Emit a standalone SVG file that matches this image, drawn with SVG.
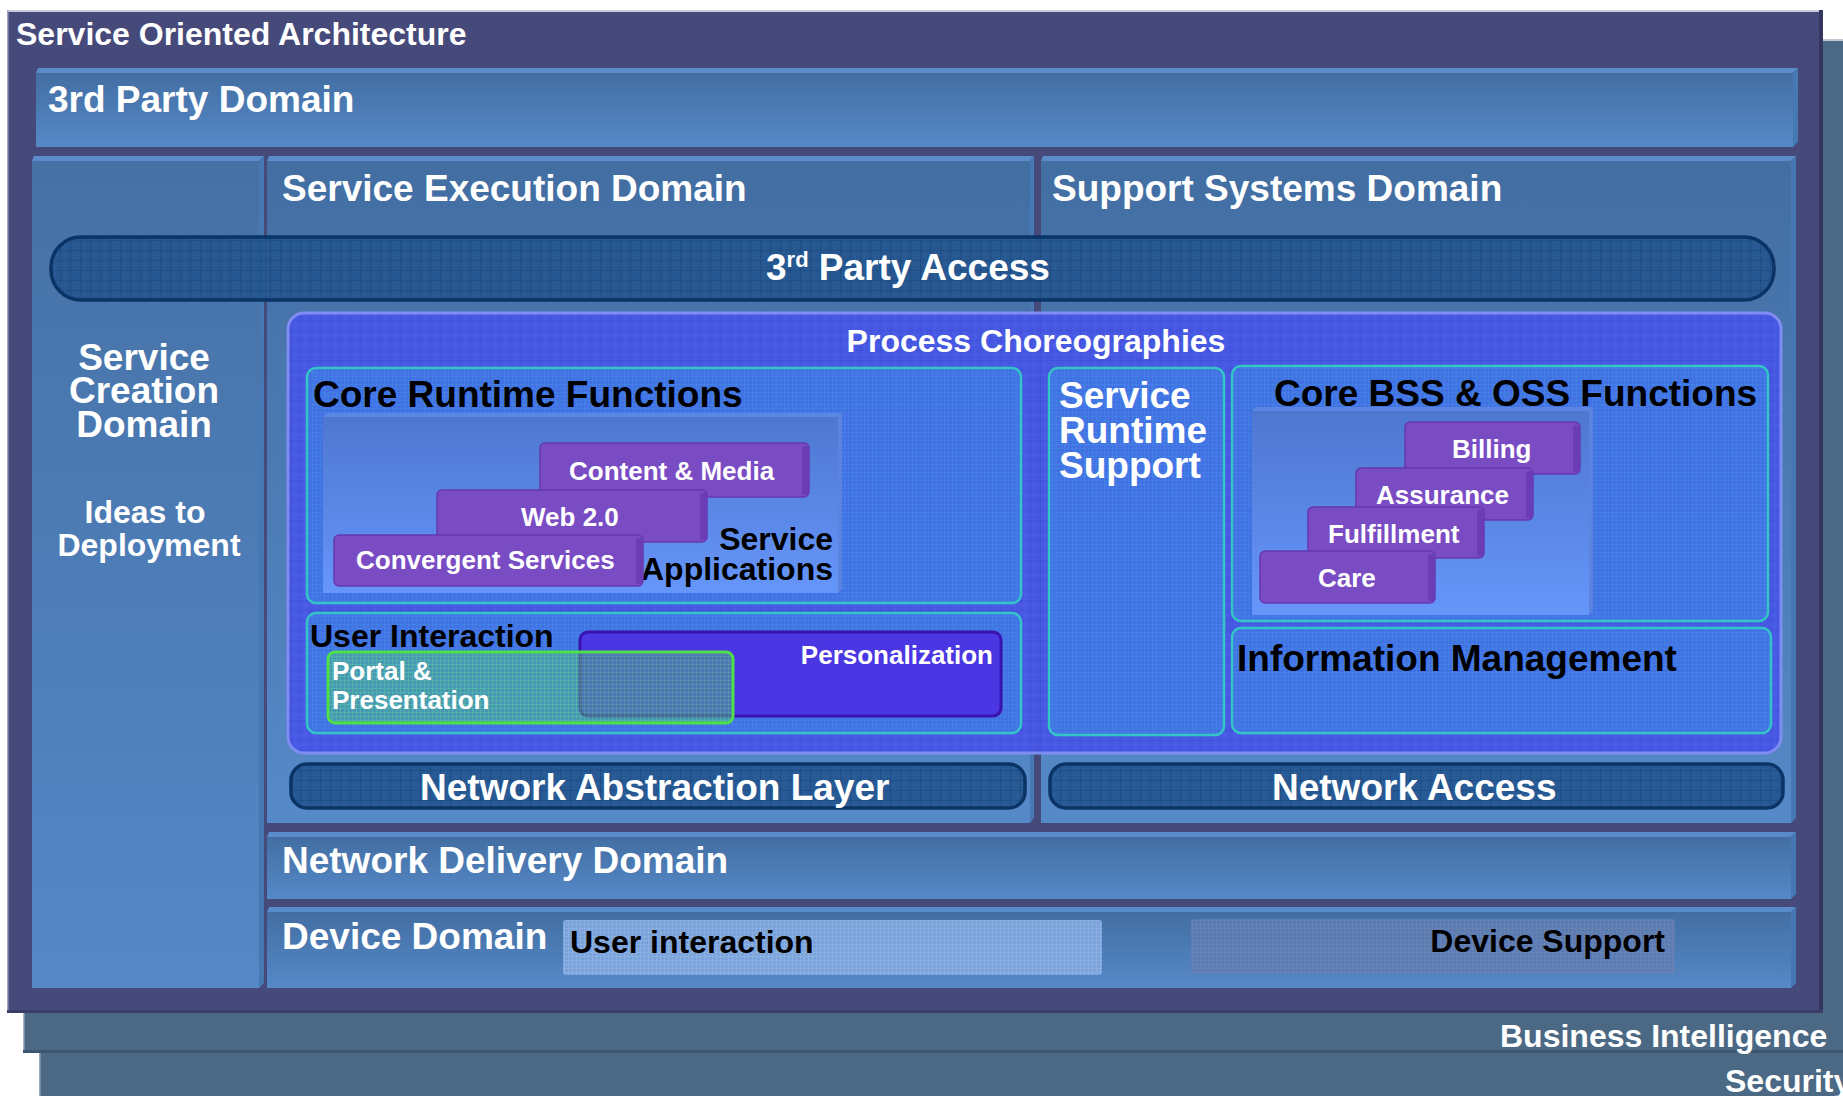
<svg xmlns="http://www.w3.org/2000/svg" width="1843" height="1096" viewBox="0 0 1843 1096">
<defs>
<style>
text{font-family:"Liberation Sans",Arial,Helvetica,sans-serif;font-weight:bold}
.w{fill:#ffffff}
.k{fill:#000000}
.t37{font-size:37px}
.t32{font-size:32px}
.t26{font-size:26px}
.bevT{fill:#5a8ccc}
.bevR{fill:#4678b4}
.dom{fill:url(#gDom)}
.teal{fill:#3f8ee8;fill-opacity:0.45;stroke:#33c6c6;stroke-width:2.5}
.tealgrid{fill:url(#pFine)}
.purp{fill:#7a4cc4;stroke:#6638b0;stroke-width:1.5}
.purpR{fill:#6a3cb6}
.bar{fill:#22548e;fill-opacity:0.9;stroke:#0b3466;stroke-width:3.5}
</style>
<linearGradient id="gDom" x1="0" y1="0" x2="0" y2="1">
<stop offset="0" stop-color="#426ea2"/>
<stop offset="1" stop-color="#5689c8"/>
</linearGradient>
<linearGradient id="gCol" x1="0" y1="0" x2="0" y2="1">
<stop offset="0" stop-color="#4571a5"/>
<stop offset="1" stop-color="#5588c8"/>
</linearGradient>
<linearGradient id="gApp" x1="0" y1="0" x2="0" y2="1">
<stop offset="0" stop-color="#4e77d0"/>
<stop offset="1" stop-color="#6696fa"/>
</linearGradient>
<pattern id="pBar" width="10" height="10" patternUnits="userSpaceOnUse">
<path d="M10 0H0V10" fill="none" stroke="#123d70" stroke-width="1.2"/>
<path d="M5 0V10M0 5H10" fill="none" stroke="#2f64a0" stroke-width="0.6" opacity="0.6"/>
</pattern>
<pattern id="pProc" width="10" height="10" patternUnits="userSpaceOnUse">
<path d="M10 0H0V10" fill="none" stroke="#3a48d4" stroke-width="1"/>
<path d="M5 0V10M0 5H10" fill="none" stroke="#5a6cf4" stroke-width="0.6" opacity="0.6"/>
</pattern>
<pattern id="pFine" width="4" height="4" patternUnits="userSpaceOnUse">
<path d="M4 0H0V4" fill="none" stroke="#40b8d8" stroke-width="0.7" opacity="0.5"/>
</pattern>
<pattern id="pLight" width="4" height="4" patternUnits="userSpaceOnUse">
<rect width="4" height="4" fill="#80a8e0"/>
<path d="M4 0H0V4" fill="none" stroke="#a8c4ec" stroke-width="0.8"/>
</pattern>
<pattern id="pGray" width="4" height="4" patternUnits="userSpaceOnUse">
<rect width="4" height="4" fill="#5e7cb4"/>
<path d="M4 0H0V4" fill="none" stroke="#7c8cb0" stroke-width="0.8"/>
</pattern>
<pattern id="pGreen" width="4" height="4" patternUnits="userSpaceOnUse">
<path d="M4 0H0V4" fill="none" stroke="#70f090" stroke-width="0.7" opacity="0.5"/>
</pattern>
</defs>

<rect width="1843" height="1096" fill="#ffffff"/>

<g id="security">
<rect x="39" y="1040" width="1820" height="70" fill="#4b6985"/>
<rect x="39" y="1040" width="1.5" height="70" fill="#9aa8bc"/>
<text class="w t32" x="1725" y="1092">Security</text>
</g>

<g id="business-intelligence">
<rect x="23" y="39" width="1830" height="1013" fill="#4b6985"/>
<rect x="23" y="39" width="1830" height="2" fill="#c0c8d4"/>
<rect x="23" y="39" width="1.5" height="1013" fill="#a8b4c4"/>
<rect x="23" y="1050" width="1830" height="3" fill="#3c5670"/>
<text class="w t32" x="1500" y="1047">Business Intelligence</text>
</g>

<g id="soa-frame">
<rect x="7" y="10" width="1816" height="1003" fill="#464a7a"/>
<rect x="7" y="10" width="1816" height="2" fill="#c8cad8"/>
<rect x="7" y="10" width="1.5" height="1003" fill="#a0a4c0"/>
<rect x="1819" y="10" width="4" height="1003" fill="#33365e"/>
<rect x="7" y="1010" width="1816" height="3" fill="#3a3d68"/>
<text class="w t32" x="16" y="45">Service Oriented Architecture</text>
</g>

<g id="third-party-domain">
<rect class="dom" x="36" y="73" width="1757" height="74"/>
<polygon class="bevT" points="36,73 38,68 1798,68 1793,73"/>
<polygon class="bevR" points="1793,73 1798,68 1798,142 1793,147"/>
<text class="w t37" x="48" y="112">3rd Party Domain</text>
</g>

<g id="service-creation-domain">
<rect fill="url(#gCol)" x="32" y="161" width="227" height="827"/>
<polygon class="bevT" points="32,161 34,156 264,156 259,161"/>
<polygon class="bevR" points="259,161 264,156 264,983 259,988"/>
<text class="w t37" text-anchor="middle" x="144" y="370">Service</text>
<text class="w t37" text-anchor="middle" x="144" y="403">Creation</text>
<text class="w t37" text-anchor="middle" x="144" y="437">Domain</text>
<text class="w t32" text-anchor="middle" x="145" y="523">Ideas to</text>
<text class="w t32" text-anchor="middle" x="149" y="556">Deployment</text>
</g>

<g id="service-execution-domain">
<rect class="dom" x="267" y="161" width="763" height="662"/>
<polygon class="bevT" points="267,161 269,156 1034,156 1030,161"/>
<polygon class="bevR" points="1030,161 1034,156 1034,818 1030,823"/>
<text class="w t37" x="282" y="201">Service Execution Domain</text>
</g>

<g id="support-systems-domain">
<rect class="dom" x="1041" y="161" width="750" height="662"/>
<polygon class="bevT" points="1041,161 1043,156 1796,156 1791,161"/>
<polygon class="bevR" points="1791,161 1796,156 1796,818 1791,823"/>
<text class="w t37" x="1052" y="201">Support Systems Domain</text>
</g>

<g id="network-delivery-domain">
<rect class="dom" x="267" y="837" width="1524" height="62"/>
<polygon class="bevT" points="267,837 269,832 1796,832 1791,837"/>
<polygon class="bevR" points="1791,837 1796,832 1796,894 1791,899"/>
<text class="w t37" x="282" y="873">Network Delivery Domain</text>
</g>

<g id="device-domain">
<rect class="dom" x="267" y="912" width="1524" height="76"/>
<polygon class="bevT" points="267,912 269,907 1796,907 1791,912"/>
<polygon class="bevR" points="1791,912 1796,907 1796,983 1791,988"/>
<text class="w t37" x="282" y="949">Device Domain</text>
</g>

<g id="user-interaction-device">
<rect x="563" y="920" width="539" height="55" rx="3" fill="url(#pLight)" opacity="0.9"/>
<text class="k t32" x="570" y="953">User interaction</text>
</g>

<g id="device-support">
<rect x="1191" y="919" width="484" height="55" rx="3" fill="url(#pGray)" opacity="0.85"/>
<text class="k t32" text-anchor="end" x="1665" y="952">Device Support</text>
</g>

<g id="third-party-access">
<rect class="bar" x="51" y="237" width="1723" height="63" rx="30"/>
<rect x="53" y="239" width="1719" height="59" rx="28" fill="url(#pBar)" opacity="0.7"/>
<text class="w t37" x="766" y="280">3<tspan font-size="22" dy="-13">rd</tspan><tspan dy="13"> Party Access</tspan></text>
</g>

<g id="process-choreographies">
<rect x="288" y="313" width="1493" height="440" rx="16" fill="#4656e6" fill-opacity="0.92" stroke="#7f8cf2" stroke-width="3"/>
<rect x="290" y="315" width="1489" height="436" rx="14" fill="url(#pProc)" opacity="0.8"/>
<text class="w t32" text-anchor="middle" x="1036" y="352">Process Choreographies</text>
</g>

<g id="core-runtime-functions">
<rect class="teal" x="307" y="368" width="714" height="235" rx="9"/>
<rect class="tealgrid" x="309" y="370" width="710" height="231" rx="8"/>
<text class="k t37" x="313" y="407">Core Runtime Functions</text>
</g>

<g id="service-applications">
<rect fill="url(#gApp)" x="323" y="417" width="515" height="176"/>
<polygon points="323,417 327,413 842,413 838,417" fill="#5c86e4"/>
<polygon points="838,417 842,413 842,589 838,593" fill="#5a84e0"/>
<text class="k t32" text-anchor="end" x="833" y="550">Service</text>
<text class="k t32" text-anchor="end" x="833" y="580">Applications</text>
</g>

<g id="content-media">
<rect class="purp" x="540" y="443" width="269" height="54" rx="5"/>
<rect class="purpR" x="802" y="446" width="7" height="49" rx="3"/>
<text class="w t26" x="569" y="480">Content &amp; Media</text>
</g>

<g id="web-2-0">
<rect class="purp" x="437" y="490" width="270" height="52" rx="5"/>
<rect class="purpR" x="700" y="493" width="7" height="47" rx="3"/>
<text class="w t26" x="521" y="526">Web 2.0</text>
</g>

<g id="convergent-services">
<rect class="purp" x="334" y="535" width="309" height="51" rx="5"/>
<rect class="purpR" x="636" y="538" width="7" height="46" rx="3"/>
<text class="w t26" x="356" y="569">Convergent Services</text>
</g>

<g id="user-interaction">
<rect class="teal" x="307" y="613" width="714" height="120" rx="9"/>
<rect class="tealgrid" x="309" y="615" width="710" height="116" rx="8"/>
<text class="k t32" x="310" y="647">User Interaction</text>
</g>

<g id="personalization">
<rect x="580" y="632" width="421" height="84" rx="8" fill="#4a36e2" stroke="#3a12b0" stroke-width="3"/>
<text class="w t26" text-anchor="end" x="993" y="664">Personalization</text>
</g>

<g id="portal-presentation">
<rect x="328" y="652" width="405" height="71" rx="7" fill="#52d070" fill-opacity="0.42" stroke="#4ee048" stroke-width="3"/>
<rect x="330" y="654" width="401" height="67" rx="6" fill="url(#pGreen)"/>
<text class="w t26" x="332" y="680">Portal &amp;</text>
<text class="w t26" x="332" y="709">Presentation</text>
</g>

<g id="service-runtime-support">
<rect class="teal" x="1049" y="368" width="175" height="367" rx="9"/>
<rect class="tealgrid" x="1051" y="370" width="171" height="363" rx="8"/>
<text class="w t37" x="1059" y="408">Service</text>
<text class="w t37" x="1059" y="443">Runtime</text>
<text class="w t37" x="1059" y="478">Support</text>
</g>

<g id="core-bss-oss-functions">
<rect class="teal" x="1232" y="366" width="536" height="255" rx="9"/>
<rect class="tealgrid" x="1234" y="368" width="532" height="251" rx="8"/>
<rect fill="url(#gApp)" x="1252" y="411" width="337" height="204"/>
<polygon points="1252,411 1256,407 1593,407 1589,411" fill="#5c86e4"/>
<polygon points="1589,411 1593,407 1593,611 1589,615" fill="#5a84e0"/>
<text class="k t37" x="1274" y="406">Core BSS &amp; OSS Functions</text>
</g>

<g id="billing">
<rect class="purp" x="1405" y="422" width="175" height="52" rx="5"/>
<rect class="purpR" x="1573" y="425" width="7" height="47" rx="3"/>
<text class="w t26" x="1452" y="458">Billing</text>
</g>

<g id="assurance">
<rect class="purp" x="1356" y="468" width="177" height="52" rx="5"/>
<rect class="purpR" x="1526" y="471" width="7" height="47" rx="3"/>
<text class="w t26" x="1376" y="504">Assurance</text>
</g>

<g id="fulfillment">
<rect class="purp" x="1308" y="507" width="176" height="51" rx="5"/>
<rect class="purpR" x="1477" y="510" width="7" height="46" rx="3"/>
<text class="w t26" x="1328" y="543">Fulfillment</text>
</g>

<g id="care">
<rect class="purp" x="1260" y="551" width="175" height="52" rx="5"/>
<rect class="purpR" x="1428" y="554" width="7" height="47" rx="3"/>
<text class="w t26" x="1318" y="587">Care</text>
</g>

<g id="information-management">
<rect class="teal" x="1232" y="628" width="539" height="105" rx="9"/>
<rect class="tealgrid" x="1234" y="630" width="535" height="101" rx="8"/>
<text class="k t37" x="1237" y="671">Information Management</text>
</g>

<g id="network-abstraction-layer">
<rect class="bar" x="291" y="764" width="734" height="44" rx="16"/>
<rect x="293" y="766" width="730" height="40" rx="14" fill="url(#pBar)" opacity="0.7"/>
<text class="w t37" x="420" y="800">Network Abstraction Layer</text>
</g>

<g id="network-access">
<rect class="bar" x="1050" y="764" width="733" height="44" rx="16"/>
<rect x="1052" y="766" width="729" height="40" rx="14" fill="url(#pBar)" opacity="0.7"/>
<text class="w t37" x="1272" y="800">Network Access</text>
</g>

<g id="connectors"></g>
</svg>
